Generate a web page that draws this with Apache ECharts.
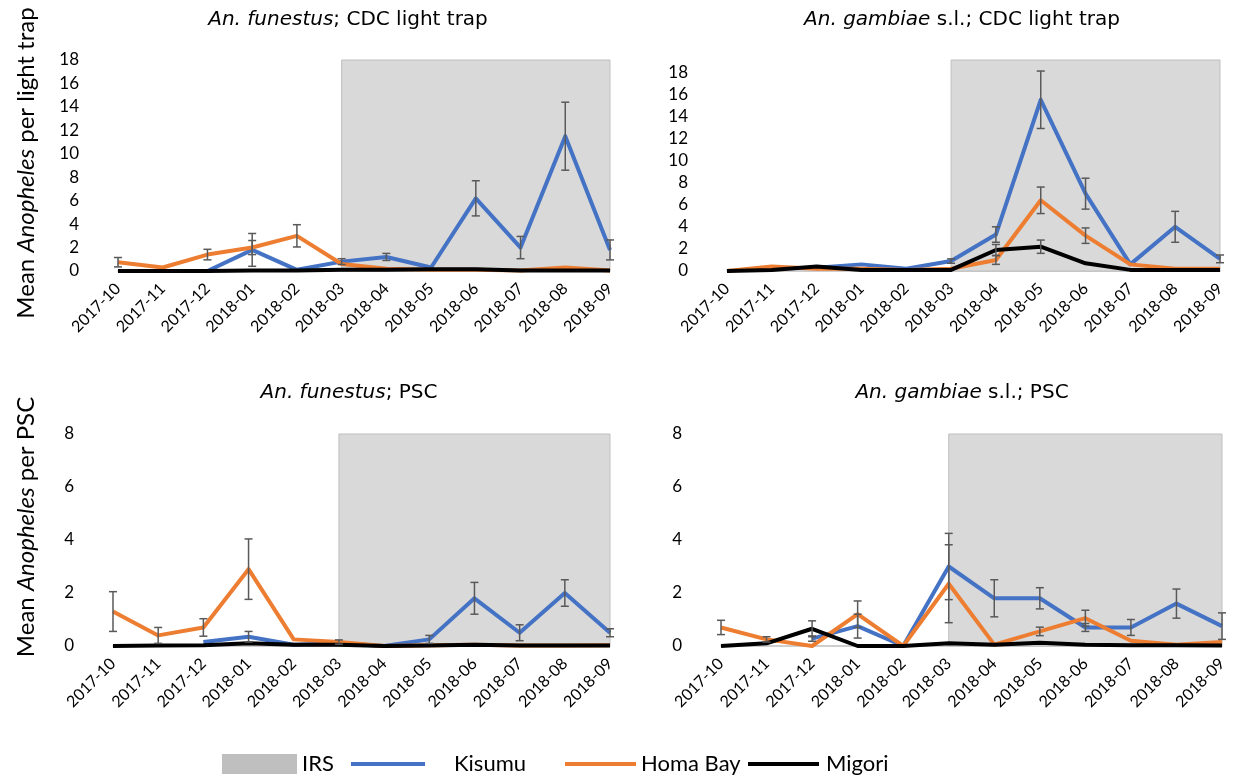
<!DOCTYPE html>
<html>
<head>
<meta charset="utf-8">
<script src="https://cdn.jsdelivr.net/npm/echarts@6/dist/echarts.min.js"></script>
<style>
  html, body { margin: 0; padding: 0; background: #fff; }
  #chart { width: 1236px; height: 782px; }
</style>
</head>
<body>
<div id="chart"></div>
<script>
const categories = ['2017-10', '2017-11', '2017-12', '2018-01', '2018-02', '2018-03',
  '2018-04', '2018-05', '2018-06', '2018-07', '2018-08', '2018-09']

// An. funestus; CDC light trap
const funCdcKisumu = [null, null, 0, 1.8, 0.1, 0.8, 1.2, 0.3, 6.2, 2.0, 11.5, 1.8]
const funCdcKisumuErr = [null, null, null, 1.4, null, 0.25, 0.3, null, 1.5, 0.95, 2.9, 0.85]
const funCdcHoma = [0.75, 0.3, 1.4, 2.0, 3.0, 0.6, 0.2, 0.1, 0.1, 0.05, 0.3, 0.05]
const funCdcHomaErr = [0.4, null, 0.45, 0.6, 0.95, null, null, null, null, null, null, null]
const funCdcMigori = [0, 0, 0, 0.05, 0.05, 0.1, 0.1, 0.15, 0.15, 0.05, 0.05, 0.05]

// An. gambiae s.l.; CDC light trap
const gamCdcKisumu = [null, null, 0.3, 0.6, 0.2, 0.9, 3.3, 15.5, 7.0, 0.6, 4.0, 1.1]
const gamCdcKisumuErr = [null, null, null, null, null, 0.2, 0.7, 2.6, 1.4, null, 1.4, 0.35]
const gamCdcHoma = [0, 0.4, 0.2, 0.2, 0.1, 0.2, 1.0, 6.4, 3.2, 0.6, 0.2, 0.2]
const gamCdcHomaErr = [null, null, null, null, null, null, 0.4, 1.2, 0.7, null, null, null]
const gamCdcMigori = [0, 0.1, 0.4, 0.1, 0.1, 0.1, 1.9, 2.2, 0.7, 0.1, 0.1, 0.1]
const gamCdcMigoriErr = [null, null, null, null, null, null, 0.5, 0.6, null, null, null, null]

// An. funestus; PSC
const funPscKisumu = [null, null, 0.15, 0.35, 0.05, 0.1, 0, 0.25, 1.8, 0.5, 2.0, 0.5]
const funPscKisumuErr = [null, null, null, 0.2, null, null, null, 0.15, 0.6, 0.3, 0.5, 0.15]
const funPscHoma = [1.3, 0.4, 0.7, 2.9, 0.25, 0.15, 0, 0.03, 0.05, 0.02, 0.02, 0.03]
const funPscHomaErr = [0.75, 0.3, 0.33, 1.14, null, 0.08, null, null, null, null, null, null]
const funPscMigori = [0, 0.02, 0.03, 0.1, 0.05, 0.05, 0, 0.02, 0.05, 0.02, 0.02, 0.02]

// An. gambiae s.l.; PSC
const gamPscKisumu = [null, null, 0.28, 0.75, 0, 3.0, 1.8, 1.8, 0.7, 0.7, 1.6, 0.75]
const gamPscKisumuErr = [null, null, 0.1, 0.45, null, 1.25, 0.7, 0.4, 0.15, 0.3, 0.55, 0.5]
const gamPscHoma = [0.7, 0.25, 0, 1.2, 0, 2.35, 0.05, 0.55, 1.05, 0.2, 0.05, 0.15]
const gamPscHomaErr = [0.27, 0.1, null, 0.5, null, 1.47, null, 0.16, 0.3, null, null, null]
const gamPscMigori = [0, 0.1, 0.65, 0, 0, 0.1, 0.05, 0.12, 0.05, 0.03, 0.03, 0.02]
const gamPscMigoriErr = [null, null, 0.3, null, null, null, null, null, null, null, null, null]

const irsStart = '2018-03'
const irsEnd = '2018-09'

const FONT = 'Lato, "Open Sans", sans-serif'
const TITLE_FONT = '"DejaVu Sans", Lato, sans-serif'
const COLORS = { Kisumu: '#4472C4', 'Homa Bay': '#ED7D31', Migori: '#000000' }

const panels = [
  { title: '{i|An. funestus}; CDC light trap', cx: 348, cy: 20, max: 18,
    grid: { left: 118, right: 626, top: 60, bottom: 511 },
    lines: { Kisumu: [funCdcKisumu, funCdcKisumuErr], 'Homa Bay': [funCdcHoma, funCdcHomaErr], Migori: [funCdcMigori, null] } },
  { title: '{i|An. gambiae} s.l.; CDC light trap', cx: 962, cy: 20, max: 19.1,
    grid: { left: 727, right: 16, top: 60, bottom: 511 },
    lines: { Kisumu: [gamCdcKisumu, gamCdcKisumuErr], 'Homa Bay': [gamCdcHoma, gamCdcHomaErr], Migori: [gamCdcMigori, gamCdcMigoriErr] } },
  { title: '{i|An. funestus}; PSC', cx: 349, cy: 393, max: 8,
    grid: { left: 113, right: 626, top: 434, bottom: 136 },
    lines: { Kisumu: [funPscKisumu, funPscKisumuErr], 'Homa Bay': [funPscHoma, funPscHomaErr], Migori: [funPscMigori, null] } },
  { title: '{i|An. gambiae} s.l.; PSC', cx: 962, cy: 393, max: 8,
    grid: { left: 721, right: 14, top: 434, bottom: 136 },
    lines: { Kisumu: [gamPscKisumu, gamPscKisumuErr], 'Homa Bay': [gamPscHoma, gamPscHomaErr], Migori: [gamPscMigori, gamPscMigoriErr] } }
]

function errData(values, errs) {
  const out = []
  if (!errs) return out
  errs.forEach((e, i) => {
    if (e != null && values[i] != null) out.push([i, Math.max(0, values[i] - e), values[i] + e])
  })
  return out
}

function renderErr(params, api) {
  const x = api.value(0)
  const lo = api.coord([x, api.value(1)])
  const hi = api.coord([x, api.value(2)])
  const w = 4
  const style = { stroke: '#595959', lineWidth: 1.5 }
  return {
    type: 'group',
    children: [
      { type: 'line', shape: { x1: hi[0], y1: hi[1], x2: lo[0], y2: lo[1] }, style },
      { type: 'line', shape: { x1: hi[0] - w, y1: hi[1], x2: hi[0] + w, y2: hi[1] }, style },
      { type: 'line', shape: { x1: lo[0] - w, y1: lo[1], x2: lo[0] + w, y2: lo[1] }, style }
    ]
  }
}

const grids = []
const xAxes = []
const yAxes = []
const series = []
const graphics = []

panels.forEach((p, i) => {
  grids.push(p.grid)
  xAxes.push({
    type: 'category', gridIndex: i, data: categories, boundaryGap: false,
    axisLine: { lineStyle: { color: '#BFBFBF', width: 1.5 } },
    axisTick: { show: false },
    axisLabel: { rotate: 45, interval: 0, margin: 15, fontSize: 16, color: '#000', fontFamily: FONT }
  })
  yAxes.push({
    type: 'value', gridIndex: i, min: 0, max: p.max, interval: 2,
    splitLine: { show: false }, axisLine: { show: false }, axisTick: { show: false },
    axisLabel: { margin: 39, fontSize: 17, color: '#000', fontFamily: FONT, showMaxLabel: p.max % 2 === 0 }
  })
  series.push({
    name: 'IRS', type: 'line', xAxisIndex: i, yAxisIndex: i, data: [], z: 1,
    markArea: {
      silent: true,
      itemStyle: { color: '#D9D9D9', borderColor: '#BFBFBF', borderWidth: 1 },
      data: [[{ xAxis: irsStart }, { xAxis: irsEnd }]]
    }
  })
  Object.keys(p.lines).forEach((name) => {
    const [vals, errs] = p.lines[name]
    series.push({
      name, type: 'line', xAxisIndex: i, yAxisIndex: i, data: vals,
      symbol: 'none', connectNulls: false, z: 3,
      lineStyle: { color: COLORS[name], width: 4, join: 'round' },
      itemStyle: { color: COLORS[name] }
    })
    const ed = errData(vals, errs)
    if (ed.length) {
      series.push({
        type: 'custom', xAxisIndex: i, yAxisIndex: i, data: ed, z: 4,
        encode: { x: 0, y: [1, 2] }, renderItem: renderErr, silent: true
      })
    }
  })
  graphics.push({
    type: 'text', x: p.cx, y: p.cy,
    style: {
      text: p.title, align: 'center', verticalAlign: 'middle', fill: '#000',
      font: '20px ' + TITLE_FONT,
      rich: { i: { fontStyle: 'italic', fontSize: 20, fontFamily: TITLE_FONT } }
    }
  })
})

// y axis names
graphics.push({
  type: 'text', x: 26, y: 163, rotation: Math.PI / 2,
  style: { text: 'Mean {i|Anopheles} per light trap', align: 'center', verticalAlign: 'middle', fill: '#000',
    font: '24px ' + FONT, rich: { i: { fontStyle: 'italic', fontSize: 24, fontFamily: FONT } } }
})
graphics.push({
  type: 'text', x: 26, y: 527, rotation: Math.PI / 2,
  style: { text: 'Mean {i|Anopheles} per PSC', align: 'center', verticalAlign: 'middle', fill: '#000',
    font: '24px ' + FONT, rich: { i: { fontStyle: 'italic', fontSize: 24, fontFamily: FONT } } }
})

const legendText = { fontSize: 22, color: '#000', fontFamily: FONT }
const legends = [
  { data: [{ name: 'IRS', icon: 'rect', itemStyle: { color: '#BFBFBF' } }], left: 222, itemWidth: 75, itemHeight: 20 },
  { data: [{ name: 'Kisumu', icon: 'rect' }], left: 351, itemWidth: 74, textStyle: { ...legendText, padding: [0, 0, 0, 24] } },
  { data: [{ name: 'Homa Bay', icon: 'rect' }], left: 565, itemWidth: 71 },
  { data: [{ name: 'Migori', icon: 'rect' }], left: 748, itemWidth: 71, textStyle: { ...legendText, padding: [0, 0, 0, 2] } }
].map((l) => ({
  top: 753, itemHeight: 4, padding: 0, selectedMode: false, textStyle: legendText, ...l
}))

const chart = echarts.init(document.getElementById('chart'))
chart.setOption({
  animation: false,
  textStyle: { fontFamily: FONT },
  grid: grids,
  xAxis: xAxes,
  yAxis: yAxes,
  legend: legends,
  series,
  graphic: graphics
})
</script>
</body>
</html>
